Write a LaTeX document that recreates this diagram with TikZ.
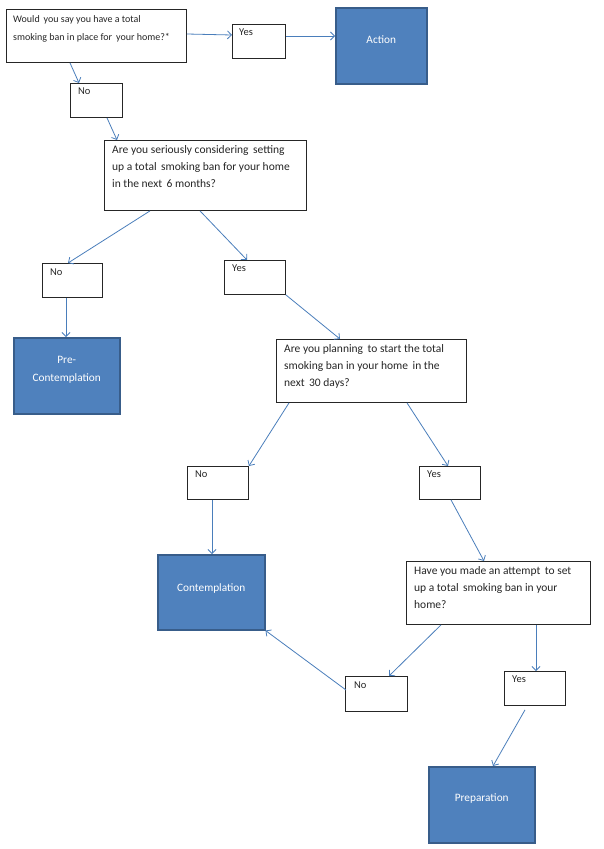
\documentclass[tikz,border=0pt]{standalone}
\usepackage{fontspec}
\setmainfont{Carlito}
\usetikzlibrary{calc,arrows.meta}
\definecolor{bfill}{HTML}{4F81BD}
\definecolor{bborder}{HTML}{385D8A}
\definecolor{arrc}{HTML}{4A7EBB}
\tikzset{
  wbox/.style={draw=black!85, line width=0.9pt, fill=white, anchor=north west, inner sep=0pt},
  bbox/.style={draw=bborder, line width=1.5pt, fill=bfill, anchor=north west, inner sep=0pt},
  qtext/.style={anchor=north west, inner sep=0pt, align=left, text=black!85, font=\fontsize{11.5}{17}\selectfont},
  q1text/.style={qtext, font=\fontsize{10}{18}\selectfont},
  ltext/.style={qtext, font=\fontsize{10.5}{17}\selectfont},
  btext/.style={inner sep=0pt, align=center, text=white, font=\fontsize{11.3}{18}\selectfont},
  arr/.style={draw=arrc, line width=0.8pt, -{Straight Barb[length=4pt,width=8pt]}}
}
\begin{document}
\begin{tikzpicture}[x=1pt,y=-1pt]
\useasboundingbox (0,0) rectangle (604,849);
% boxes
\node[wbox, minimum width=180pt, minimum height=53pt] (q1) at (6,9) {};
\node[wbox, minimum width=53pt, minimum height=34pt] (yes1) at (232,24) {};
\node[bbox, minimum width=91pt, minimum height=76pt] (action) at (335,7) {};
\node[wbox, minimum width=52pt, minimum height=34pt] (no1) at (70,83) {};
\node[wbox, minimum width=202pt, minimum height=70pt] (q2) at (104,140) {};
\node[wbox, minimum width=60pt, minimum height=34pt] (no2) at (42,263) {};
\node[wbox, minimum width=61pt, minimum height=34pt] (yes2) at (224,260) {};
\node[bbox, minimum width=106pt, minimum height=76pt] (prec) at (13,337) {};
\node[wbox, minimum width=190pt, minimum height=63pt] (q3) at (276,339) {};
\node[wbox, minimum width=61pt, minimum height=33pt] (no3) at (187,466) {};
\node[wbox, minimum width=61pt, minimum height=33pt] (yes3) at (419,466) {};
\node[bbox, minimum width=107pt, minimum height=75pt] (cont) at (157,554) {};
\node[wbox, minimum width=184pt, minimum height=63pt] (q4) at (406,561) {};
\node[wbox, minimum width=62pt, minimum height=35pt] (no4) at (345,676) {};
\node[wbox, minimum width=61pt, minimum height=34pt] (yes4) at (504,671) {};
\node[bbox, minimum width=106pt, minimum height=76pt] (prep) at (428,766) {};
% texts
\node[q1text] (q1t) at ($(q1.north west)+(7,6)$) {Would \,you say you have a total\\smoking ban in place for \,your home?*};
\node[ltext] (yes1t) at ($(yes1.north west)+(7,5)$) {Yes};
\node[btext] (actiont) at ($(action.center)+(0,-6)$) {Action};
\node[ltext] (no1t) at ($(no1.north west)+(8,5)$) {No};
\node[qtext] (q2t) at ($(q2.north west)+(8,5)$) {Are you seriously considering \,setting\\up a total \,smoking ban for your home\\in the next \,6 months?};
\node[ltext] (no2t) at ($(no2.north west)+(8,6)$) {No};
\node[ltext] (yes2t) at ($(yes2.north west)+(8,5)$) {Yes};
\node[btext] (prect) at ($(prec.center)+(0,-6)$) {Pre-\\Contemplation};
\node[qtext] (q3t) at ($(q3.north west)+(8,5)$) {Are you planning \,to start the total\\smoking ban in your home \,in the\\next \,30 days?};
\node[ltext] (no3t) at ($(no3.north west)+(8,5)$) {No};
\node[ltext] (yes3t) at ($(yes3.north west)+(8,5)$) {Yes};
\node[btext] (contt) at ($(cont.center)+(0,-4)$) {Contemplation};
\node[qtext] (q4t) at ($(q4.north west)+(8,5)$) {Have you made an attempt \,to set\\up a total \,smoking ban in your\\home?};
\node[ltext] (no4t) at ($(no4.north west)+(9,6)$) {No};
\node[ltext] (yes4t) at ($(yes4.north west)+(8,5)$) {Yes};
\node[btext] (prept) at ($(prep.center)+(0,-6)$) {Preparation};
% connectors
\draw[arr] ($(q1.north east)+(0,25)$) -- ($(yes1.north west)+(0,11)$);
\draw[arr] ($(yes1.north east)+(0,12)$) -- ($(action.north west)+(0,29)$);
\draw[arr] ($(q1.south west)+(64,0)$) -- ($(no1.north west)+(9,0)$);
\draw[arr] ($(no1.south west)+(37,0)$) -- ($(q2.north west)+(13,0)$);
\draw[arr] ($(q2.south west)+(46,0)$) -- ($(no2.north west)+(26,0)$);
\draw[arr] ($(q2.south west)+(96,0)$) -- ($(yes2.north west)+(23,0)$);
\draw[arr] ($(no2.south west)+(24,0)$) -- ($(prec.north west)+(53,0)$);
\draw[arr] (yes2.south east) -- ($(q3.north west)+(64,0)$);
\draw[arr] ($(q3.south west)+(13,0)$) -- (no3.north east);
\draw[arr] ($(q3.south west)+(131,0)$) -- ($(yes3.north west)+(29,0)$);
\draw[arr] ($(no3.south west)+(25,0)$) -- ($(cont.north west)+(55,0)$);
\draw[arr] ($(yes3.south west)+(32,0)$) -- ($(q4.north west)+(78,0)$);
\draw[arr] ($(q4.south west)+(35,0)$) -- ($(no4.north west)+(44,0)$);
\draw[arr] ($(q4.south west)+(130,0)$) -- ($(yes4.north west)+(32,0)$);
\draw[arr] ($(no4.north west)+(1,14)$) -- (cont.south east);
\draw[arr] ($(yes4.south west)+(21,4)$) -- ($(prep.north west)+(65,0)$);
\end{tikzpicture}
\end{document}
